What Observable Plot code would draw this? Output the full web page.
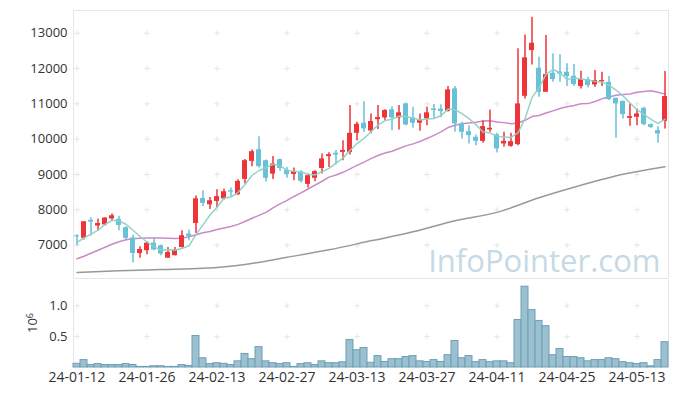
<!DOCTYPE html>
<html><head><meta charset="utf-8">
<script src="https://cdn.jsdelivr.net/npm/d3@7"></script>
<script src="https://cdn.jsdelivr.net/npm/@observablehq/plot@0.6"></script>
<style>
body{margin:0;background:#fff;}
#chart{position:relative;width:677px;height:396px;}
#chart svg{display:block;}
</style>
</head><body><div id="chart"></div>
<script>
const dates = ["24-01-12","24-01-15","24-01-16","24-01-17","24-01-18","24-01-19","24-01-22","24-01-23","24-01-24","24-01-25",
"24-01-26","24-01-29","24-01-30","24-01-31","24-02-01","24-02-02","24-02-05","24-02-06","24-02-07","24-02-08",
"24-02-13","24-02-14","24-02-15","24-02-16","24-02-19","24-02-20","24-02-21","24-02-22","24-02-23","24-02-26",
"24-02-27","24-02-28","24-02-29","24-03-04","24-03-05","24-03-06","24-03-07","24-03-08","24-03-11","24-03-12",
"24-03-13","24-03-14","24-03-15","24-03-18","24-03-19","24-03-20","24-03-21","24-03-22","24-03-25","24-03-26",
"24-03-27","24-03-28","24-03-29","24-04-01","24-04-02","24-04-03","24-04-04","24-04-05","24-04-08","24-04-09",
"24-04-11","24-04-12","24-04-15","24-04-16","24-04-17","24-04-18","24-04-19","24-04-22","24-04-23","24-04-24",
"24-04-25","24-04-26","24-04-29","24-04-30","24-05-02","24-05-03","24-05-07","24-05-08","24-05-09","24-05-10",
"24-05-13","24-05-14","24-05-16","24-05-17","24-05-20"];

const open = [7260,7190,7700,7540,7570,7740,7730,7490,7200,6760,
6840,7055,6980,6630,6700,6930,7310,7610,8320,8140,
8235,8305,8540,8425,8860,9370,9700,9390,9010,9420,
9125,9000,9070,8720,8890,9170,9505,9600,9625,9625,
10165,10450,10230,10550,10600,10830,10600,11000,10600,10450,
10575,10855,10850,10788,11423,10431,10212,10051,9937,10260,
10119,9864,9796,9844,11213,12509,12007,11327,11866,11900,
11894,11780,11488,11687,11536,11620,11610,11157,11071,10590,
10618,10873,10411,10241,10504];
const high = [7290,7665,7770,7740,7770,7880,7815,7520,7280,6950,
7100,7200,7000,6930,6930,7405,7425,8390,8540,8350,
8570,8580,8615,8850,9420,9695,10070,9410,9505,9440,
9200,9185,9115,9010,9105,9580,9615,9675,9955,10950,
10475,11060,10715,10950,10835,10920,10950,11025,10900,10715,
10900,10980,10975,11488,11488,10476,10382,10119,10524,10828,
10164,10193,10164,12557,12950,13453,12319,12935,12415,12390,
12132,12112,11922,11752,11942,11894,11772,11157,11071,10998,
10856,10901,10430,10354,11913];
const low = [6980,7140,7260,7400,7540,7690,7405,7150,6490,6630,
6725,6840,6700,6620,6690,6915,7120,7330,8095,8010,
8050,8275,8370,8405,8730,9220,9185,8785,8860,9085,
8890,8820,8760,8615,8795,9010,9200,9275,9390,9550,
9955,10190,10150,10270,10525,10240,10260,10380,10305,10220,
10380,10575,10610,10765,10193,10005,9864,9815,9881,10193,
9608,9767,9767,9815,11140,12103,11185,11327,11610,11610,
11488,11488,11423,11451,11468,11488,11091,10022,10572,10363,
10382,10382,10300,9881,10289];
const close = [7230,7660,7650,7610,7765,7830,7555,7190,6760,6875,
7055,6860,6745,6790,6860,7265,7245,8310,8180,8255,
8370,8510,8500,8805,9390,9645,9220,8890,9295,9170,
9000,9080,8805,8965,9080,9440,9560,9550,9680,10165,
10420,10290,10500,10610,10810,10600,10745,10400,10450,10525,
10745,10810,10780,11395,10431,10193,10099,9937,10354,10306,
9722,9937,9929,10998,12302,12716,11327,11829,11687,11840,
11772,11545,11687,11517,11658,11658,11120,10998,10694,10638,
10714,10411,10334,10147,11205];
const volume = [60000,120000,40000,55000,40000,40000,40000,55000,40000,10000,
10000,20000,20000,10000,10000,40000,25000,510000,150000,55000,
70000,60000,40000,100000,220000,135000,330000,100000,70000,55000,
70000,10000,55000,70000,40000,100000,70000,70000,85000,445000,
280000,315000,76000,185000,90000,135000,135000,170000,185000,100000,
90000,120000,90000,200000,430000,150000,185000,87000,120000,87000,
100000,100000,70000,770000,1310000,930000,755000,670000,200000,300000,
170000,170000,150000,100000,120000,120000,150000,135000,87000,70000,
55000,70000,20000,120000,410000];

// moving averages: leading values (they depend on days before the window)
const ma5Head = [7075,7200,7310,7425];
const ma20Head = [6612,6683,6768,6853,6938,7023,7094,7150,7179,7193,7198,7198,7198,7193,7187,7193,7235,7292,7349];
const ma120Days = [0,6,12,18,24,30,36,42,48,54,60,66,72,78,84];
const ma120 = [6225,6270,6305,6340,6450,6655,6865,7120,7375,7690,7925,8340,8695,9005,9220];

const xTickLabels = ["24-01-12","24-01-26","24-02-13","24-02-27","24-03-13","24-03-27","24-04-11","24-04-25","24-05-13"];
const priceTicks = [7000,8000,9000,10000,11000,12000,13000];
const volumeTicks = [0.5,1.0];

const UP = "#ec3439", DOWN = "#69c1d8";
const xTicks = xTickLabels.map(l => dates.indexOf(l));
const bars = dates.map((d,i) => ({i, date:d, o:open[i], h:high[i], l:low[i], c:close[i], v:volume[i]/1e6, up: close[i] >= open[i]}));
const sma = (n, head) => close.map((_, i) => i >= n-1 ? d3.mean(close.slice(i-n+1, i+1)) : head[i]);
const ma5 = sma(5, ma5Head).map((v,i) => ({i, v}));
const ma20 = sma(20, ma20Head).map((v,i) => ({i, v}));
const ma120Pts = ma120Days.map((d,k) => ({i:d, v:ma120[k]}));

const gridPrice = d3.cross(xTicks, priceTicks).map(([x,y]) => ({x,y}));
const gridVol = d3.cross(xTicks, volumeTicks).map(([x,y]) => ({x,y}));

const styleBase = {fontFamily:"'Open Sans', sans-serif", fontSize:"13px", color:"#333", background:"transparent", overflow:"visible"};
const xDomain = [-0.5, dates.length - 0.5];

const price = Plot.plot({
  width: 677, height: 280,
  marginLeft: 73, marginRight: 9, marginTop: 10, marginBottom: 2,
  style: styleBase,
  x: {domain: xDomain, axis: null},
  y: {domain: [6053, 13643], ticks: priceTicks, tickFormat: d => String(d), tickSize: 0, tickPadding: 6, label: null},
  marks: [
    Plot.frame({stroke: "#e6e6e6"}),
    Plot.dot(gridPrice, {x: "x", y: "y", symbol: "plus", r: 2, stroke: "#e6e6e6", strokeWidth: 1}),
    Plot.text(["InfoPointer.com"], {frameAnchor: "bottom-right", textAnchor: "end", lineAnchor: "bottom", dx: -8, dy: -7, fontSize: 31, fill: "#c6d9e5", fontFamily: "'Open Sans', sans-serif"}),
    Plot.line(ma120Pts, {x: "i", y: "v", stroke: "#999", strokeWidth: 1.5, curve: "monotone-x"}),
    Plot.line(ma20, {x: "i", y: "v", stroke: "#c98bc7", strokeWidth: 1.5}),
    Plot.ruleX(bars, {x: "i", y1: "l", y2: "h", stroke: d => d.up ? UP : DOWN, strokeWidth: 1.5}),
    Plot.rect(bars, {x1: d => d.i - 0.5, x2: d => d.i + 0.5, y1: "o", y2: "c", insetLeft: 1, insetRight: 1, fill: d => d.up ? UP : DOWN}),
    Plot.line(ma5, {x: "i", y: "v", stroke: "#8fd0c6", strokeWidth: 1.5, strokeOpacity: 0.95})
  ]
});

const vol = Plot.plot({
  width: 677, height: 116,
  marginLeft: 73, marginRight: 9, marginTop: 0, marginBottom: 29,
  style: styleBase,
  x: {domain: xDomain, ticks: xTicks, tickFormat: i => dates[i], tickSize: 0, tickPadding: 5, label: null},
  y: {domain: [0, 1.41], ticks: volumeTicks, tickFormat: d3.format(".1f"), tickSize: 0, tickPadding: 6, label: null},
  marks: [
    Plot.ruleX(xDomain, {stroke: "#e6e6e6"}),
    Plot.dot(gridVol, {x: "x", y: "y", symbol: "plus", r: 2, stroke: "#e6e6e6", strokeWidth: 1}),
    Plot.rect(bars, {x1: d => d.i - 0.5, x2: d => d.i + 0.5, y1: 0, y2: "v", fill: "#9bc0d0", stroke: "#6f9fb6", strokeWidth: 1})
  ]
});

const chart = document.getElementById("chart");
chart.append(price, vol);
d3.select(vol).selectAll("g[aria-label='x-axis tick label']").style("font-size","14px");
// volume unit label
const lab = d3.select(vol).append("text")
  .attr("transform", "translate(37,43) rotate(-90)")
  .attr("text-anchor", "middle")
  .attr("fill", "#333")
  .style("font-size", "13px");
lab.append("tspan").text("10");
lab.append("tspan").attr("dy", "-0.5em").style("font-size", "9px").text("6");
</script>
</body></html>
